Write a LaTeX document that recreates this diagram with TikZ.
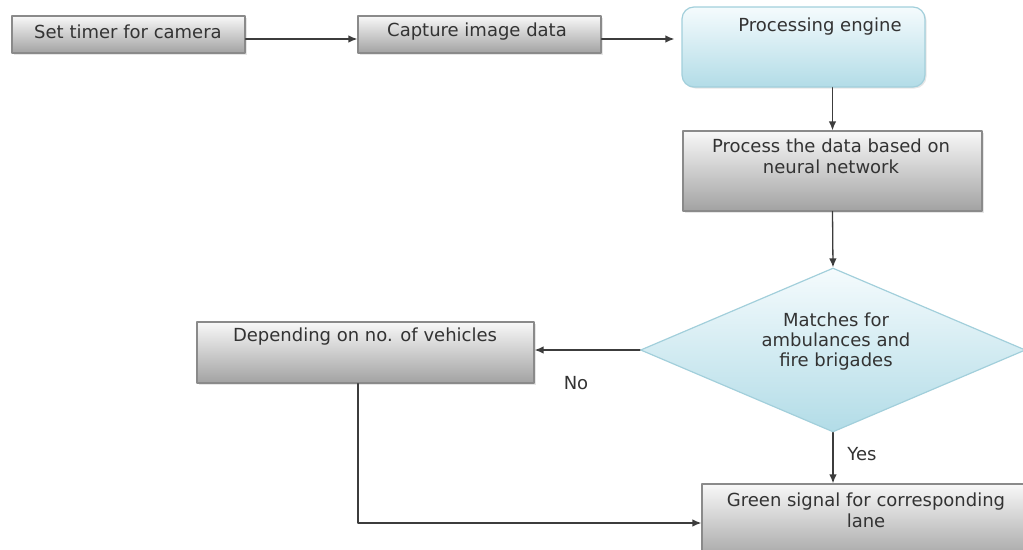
\documentclass[tikz,border=0pt]{standalone}
\usepackage{fontspec}
\setmainfont{DejaVu Sans}
\usepackage{tikz}
\usetikzlibrary{shapes,arrows.meta}
\usetikzlibrary{shadows}
\tikzset{>={Latex[length=9pt,width=7.5pt]}}
\definecolor{boxline}{HTML}{8A8A8A}
\definecolor{boxtop}{HTML}{F8F8F8}
\definecolor{boxbot}{HTML}{A2A2A2}
\definecolor{bluetop}{HTML}{F5FBFD}
\definecolor{bluebot}{HTML}{B2DCE7}
\definecolor{blueline}{HTML}{A2CFDB}
\definecolor{flowline}{HTML}{3C3C3C}
\definecolor{txtgrey}{HTML}{333333}
\tikzset{
	greybox/.style={draw=boxline,line width=1.2pt,top color=boxtop,bottom color=boxbot,inner sep=0pt,
		drop shadow={opacity=0.2,shadow xshift=1.5pt,shadow yshift=-1.5pt}},
	bluebox/.style={draw=blueline,line width=1.2pt,top color=bluetop,bottom color=bluebot,inner sep=0pt},
	boxtxt/.style={text=txtgrey,align=center,inner sep=0pt},
	flow/.style={->,draw=flowline,line width=1.3pt}
}

\begin{document}
\begin{tikzpicture}[line cap=round,line join=round,x=1pt,y=-1pt,font=\fontsize{18}{21}\selectfont]
		\clip (0,0) rectangle (1023,549);
		\node[greybox,minimum width=233pt,minimum height=37pt] (timer) at (128.5,34.5) {};
		\node[boxtxt] (timertxt) at (128,32) {Set timer for camera};
		\node[greybox,minimum width=243pt,minimum height=37pt] (capture) at (479.5,34.5) {};
		\node[boxtxt] (capturetxt) at (477,32) {Capture image data};
		\node[bluebox,rounded corners=12pt,minimum width=243pt,minimum height=80pt,
			drop shadow={opacity=0.2,shadow xshift=1.5pt,shadow yshift=-1.5pt}] (engine) at (803.5,47) {};
		\node[boxtxt] (enginetxt) at (820,27) {Processing engine};
		\node[greybox,minimum width=299pt,minimum height=80pt] (neural) at (832.5,171) {};
		\node[boxtxt] (neuraltxt) at (831,156) {Process the data based on\\neural network};
		\node[bluebox,diamond,minimum width=385pt,minimum height=164pt] (match) at (833,350) {};
		\node[boxtxt,font=\fontsize{18}{20}\selectfont] (matchtxt) at (836,342) {Matches for\\ambulances and\\fire brigades};
		\node[greybox,minimum width=337pt,minimum height=61pt] (vehicles) at (365.5,352.5) {};
		\node[boxtxt] (vehiclestxt) at (365,337) {Depending on no. of vehicles};
		\node[greybox,minimum width=328pt,minimum height=78pt] (green) at (866,523) {};
		\node[boxtxt] (greentxt) at (866,510) {Green signal for corresponding\\lane};
		\node[boxtxt] (no) at (576,383) {No};
		\node[boxtxt] (yes) at (862,454) {Yes};

		\draw[flow] ([yshift=-4.5pt]timer.east) -- ([yshift=-4.5pt]capture.west);
		\draw[flow,shorten >=7pt] ([yshift=-4.5pt]capture.east) -- ([yshift=-4.5pt]capture.east -| engine.west);
		\draw[flow] (engine.south -| neural.north) -- (neural.north);
		\draw[flow] (neural.south) -- (match.north);
		\draw[flow] (match.west) -- (match.west -| vehicles.east);
		\draw[flow] (match.south) -- (match.south |- green.north);
		\draw[flow] ([xshift=-7.5pt]vehicles.south) |- (green.west);
		\end{tikzpicture}
\end{document}
